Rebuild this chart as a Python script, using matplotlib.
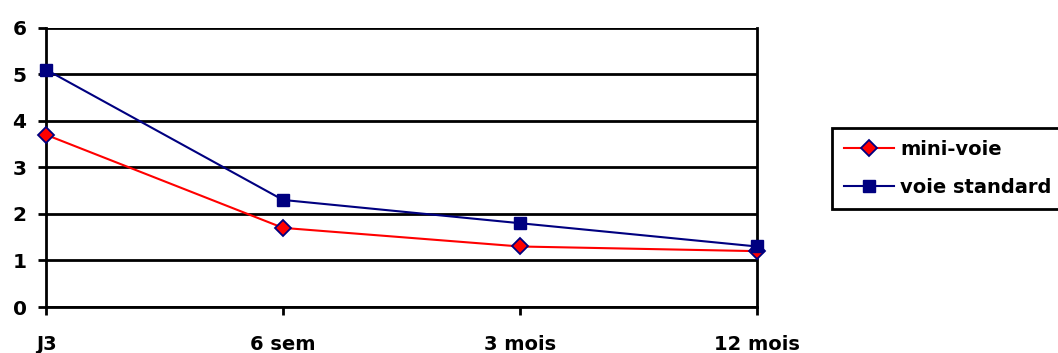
import matplotlib.pyplot as plt

categories = ["J3", "6 sem", "3 mois", "12 mois"]
mini_voie = [3.7, 1.7, 1.3, 1.2]
voie_standard = [5.1, 2.3, 1.8, 1.3]

plt.rcParams["font.family"] = "DejaVu Sans"
plt.rcParams["font.weight"] = "bold"

fig = plt.figure(figsize=(10.58, 3.53), dpi=100)
ax = fig.add_axes([0.0435, 0.1303, 0.672, 0.7912])

x = range(len(categories))
ax.plot(x, mini_voie, color="red", lw=1.5, marker="D", ms=8,
        mfc="red", mec="#000080", mew=1.3, label="mini-voie",
        zorder=4, clip_on=False)
ax.plot(x, voie_standard, color="#000080", lw=1.5, marker="s", ms=8,
        mfc="#000080", mec="#000080", label="voie standard",
        zorder=5, clip_on=False)

ax.set_xlim(0, 3)
ax.set_ylim(0, 6)
ax.set_yticks(range(0, 7))
ax.set_xticks(list(x))
ax.set_xticklabels(categories)

ax.yaxis.grid(True, color="black", lw=2)
ax.set_axisbelow(True)
for side in ["left", "bottom", "right"]:
    ax.spines[side].set_linewidth(2)
ax.spines["top"].set_visible(False)
ax.tick_params(axis="y", length=6, width=2, labelsize=14.5, pad=8)
ax.tick_params(axis="x", length=6, width=2, labelsize=14, pad=14)

leg = ax.legend(loc="upper left", bbox_to_anchor=(832 / 1058, 1 - 128 / 353),
                bbox_transform=fig.transFigure, fontsize=14, frameon=True,
                fancybox=False, edgecolor="black", framealpha=1,
                handlelength=2.6, handletextpad=0.3, borderpad=0.6,
                labelspacing=1.0, borderaxespad=0)
leg.get_frame().set_linewidth(2)

fig.savefig("out.png", dpi=100)
